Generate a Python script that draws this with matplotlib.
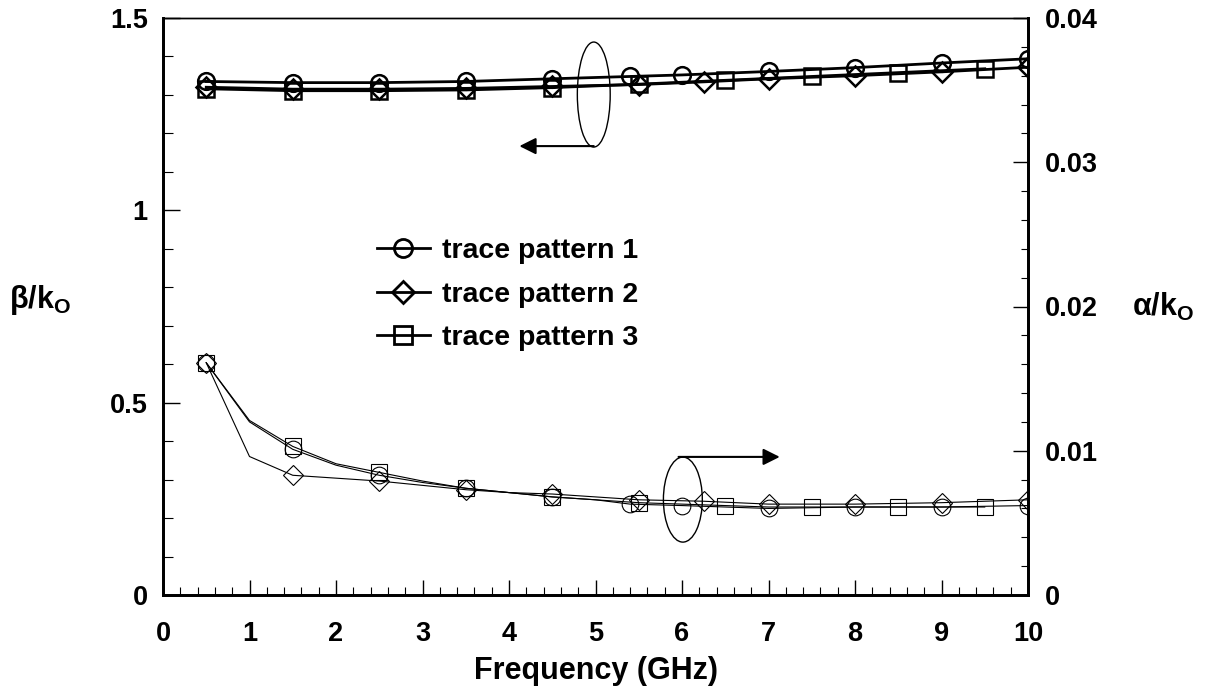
import numpy as np
import matplotlib
matplotlib.use('Agg')
import matplotlib.pyplot as plt
from matplotlib.patches import Ellipse
from matplotlib.lines import Line2D
from matplotlib.ticker import MultipleLocator

plt.rcParams['font.family'] = ['Liberation Sans', 'DejaVu Sans']
plt.rcParams['font.weight'] = 'bold'
plt.rcParams['mathtext.fontset'] = 'custom'
plt.rcParams['mathtext.rm'] = 'Liberation Sans:bold'
plt.rcParams['mathtext.it'] = 'Liberation Sans:bold'
plt.rcParams['mathtext.bf'] = 'Liberation Sans:bold'

# beta/k0 (left axis), one point per marker
f1_top = [0.5, 1.5, 2.5, 3.5, 4.5, 5.4, 6, 7, 8, 9, 10]
beta1 = [1.335, 1.332, 1.332, 1.335, 1.342, 1.348, 1.352, 1.361, 1.371, 1.383, 1.394]
f2_top = [0.5, 1.5, 2.5, 3.5, 4.5, 5.5, 6.25, 7, 8, 9, 10]
beta2 = [1.320, 1.315, 1.315, 1.317, 1.322, 1.327, 1.334, 1.342, 1.350, 1.360, 1.372]
f3_top = [0.5, 1.5, 2.5, 3.5, 4.5, 5.5, 6.5, 7.5, 8.5, 9.5]
beta3 = [1.316, 1.311, 1.311, 1.313, 1.319, 1.328, 1.338, 1.348, 1.358, 1.368]

# alpha/k0 (right axis), line vertices + the subset that carries markers
f1_bot = [0.5, 1, 1.5, 2, 2.5, 3, 3.5, 4, 4.5, 5, 5.4, 6, 7, 8, 9, 10]
alpha1 = [0.0161, 0.0120, 0.0101, 0.0090, 0.0083, 0.0078, 0.0074, 0.0071, 0.0068,
          0.0066, 0.0063, 0.0062, 0.0060, 0.0061, 0.0061, 0.0062]
m1_bot = [0.5, 1.5, 2.5, 3.5, 4.5, 5.4, 6, 7, 8, 9, 10]
f2_bot = [0.5, 1, 1.5, 2, 2.5, 3, 3.5, 4, 4.5, 5, 5.5, 6.25, 7, 8, 9, 10]
alpha2 = [0.0161, 0.0096, 0.0083, 0.0081, 0.0079, 0.0076, 0.0073, 0.0071, 0.0070,
          0.0068, 0.0066, 0.0065, 0.0063, 0.0063, 0.0064, 0.0066]
m2_bot = [0.5, 1.5, 2.5, 3.5, 4.5, 5.5, 6.25, 7, 8, 9, 10]
f3_bot = [0.5, 1, 1.5, 2, 2.5, 3, 3.5, 4, 4.5, 5, 5.5, 6, 6.5, 7, 7.5, 8, 8.5, 9, 9.5]
alpha3 = [0.0161, 0.0121, 0.0103, 0.0091, 0.0085, 0.0079, 0.0074, 0.0071, 0.0068,
          0.0066, 0.0064, 0.0063, 0.0062, 0.0061, 0.0061, 0.0061, 0.0061, 0.0061, 0.0061]
m3_bot = [0.5, 1.5, 2.5, 3.5, 4.5, 5.5, 6.5, 7.5, 8.5, 9.5]

labels = ['trace pattern 1', 'trace pattern 2', 'trace pattern 3']
markers = ['o', 'D', 's']
msizes = [12, 10.5, 12]

fig = plt.figure(figsize=(12.1, 6.95), dpi=100)
ax1 = fig.add_axes([163 / 1210, 1 - 595 / 695, 865 / 1210, 577 / 695])
ax2 = ax1.twinx()

top = [(f1_top, beta1), (f2_top, beta2), (f3_top, beta3)]
for (f, b), m, ms in zip(top, markers, msizes):
    ax1.plot(f, b, color='black', lw=2.0, marker=m, ms=ms,
             mfc='none', mec='black', mew=1.8)

bot = [(f1_bot, alpha1, m1_bot), (f2_bot, alpha2, m2_bot), (f3_bot, alpha3, m3_bot)]
for (f, a, mk), m, ms in zip(bot, markers, msizes):
    idx = list(np.where(np.isin(f, mk))[0])
    ax2.plot(f, a, color='black', lw=0.8, marker=m, ms=ms,
             mfc='none', mec='black', mew=0.8, markevery=idx)

ax1.set_xlim(0, 10)
ax1.set_ylim(0, 1.5)
ax2.set_ylim(0, 0.04)

ax1.set_xticks(range(0, 11))
ax1.xaxis.set_minor_locator(MultipleLocator(0.2))
ax1.set_yticks([0, 0.5, 1, 1.5])
ax1.set_yticklabels(['0', '0.5', '1', '1.5'])
ax1.yaxis.set_minor_locator(MultipleLocator(0.1))
ax2.set_yticks([0, 0.01, 0.02, 0.03, 0.04])
ax2.set_yticklabels(['0', '0.01', '0.02', '0.03', '0.04'])
ax2.yaxis.set_minor_locator(MultipleLocator(0.002))

ax1.tick_params(axis='x', which='major', direction='in', length=11, width=1.0, pad=19, labelsize=19.5)
ax1.tick_params(axis='x', which='minor', direction='in', length=6, width=0.8)
ax1.tick_params(axis='y', which='major', direction='in', length=12, width=1.0, pad=11, labelsize=19.5)
ax1.tick_params(axis='y', which='minor', direction='in', length=7, width=0.8)
ax2.tick_params(axis='y', which='major', direction='in', length=11, width=1.0, pad=12, labelsize=19.5)
ax2.tick_params(axis='y', which='minor', direction='in', length=5, width=0.8)

for ax in (ax1, ax2):
    for s in ('left', 'right', 'bottom'):
        ax.spines[s].set_linewidth(2.0)
    ax.spines['top'].set_linewidth(1.0)

ax1.set_xlabel('Frequency (GHz)', fontsize=22, fontweight='bold', labelpad=6)
fig.text(40 / 1210, 1 - 300 / 695, r'$\beta$/k$_O$', fontsize=22, ha='center', va='center')
fig.text(1163 / 1210, 1 - 307 / 695, r'$\alpha$/k$_O$', fontsize=22, ha='center', va='center')

# annotations
ax1.add_patch(Ellipse((4.98, 1.301), 0.38, 0.273, fill=False, ec='black', lw=1.0))
ax1.annotate('', xy=(4.12, 1.167), xytext=(4.98, 1.167),
             arrowprops=dict(arrowstyle='-|>', color='black', lw=1.5, mutation_scale=25,
                             shrinkA=0, shrinkB=0))
ax1.add_patch(Ellipse((6.01, 0.248), 0.45, 0.221, fill=False, ec='black', lw=1.0))
ax1.annotate('', xy=(7.13, 0.359), xytext=(5.96, 0.359),
             arrowprops=dict(arrowstyle='-|>', color='black', lw=1.5, mutation_scale=25,
                             shrinkA=0, shrinkB=0))

handles = [Line2D([], [], color='black', lw=2.0, marker=m, ms=ms + 1,
                  mfc='none', mec='black', mew=2.0) for m, ms in zip(markers, msizes)]
fig.legend(handles, labels, loc='upper left', bbox_to_anchor=(377 / 1210, 1 - 238 / 695),
           frameon=False, fontsize=20.5, handlelength=1.85, handletextpad=0.45,
           labelspacing=0.62, borderpad=0, borderaxespad=0)

fig.savefig('out.png', dpi=100)
